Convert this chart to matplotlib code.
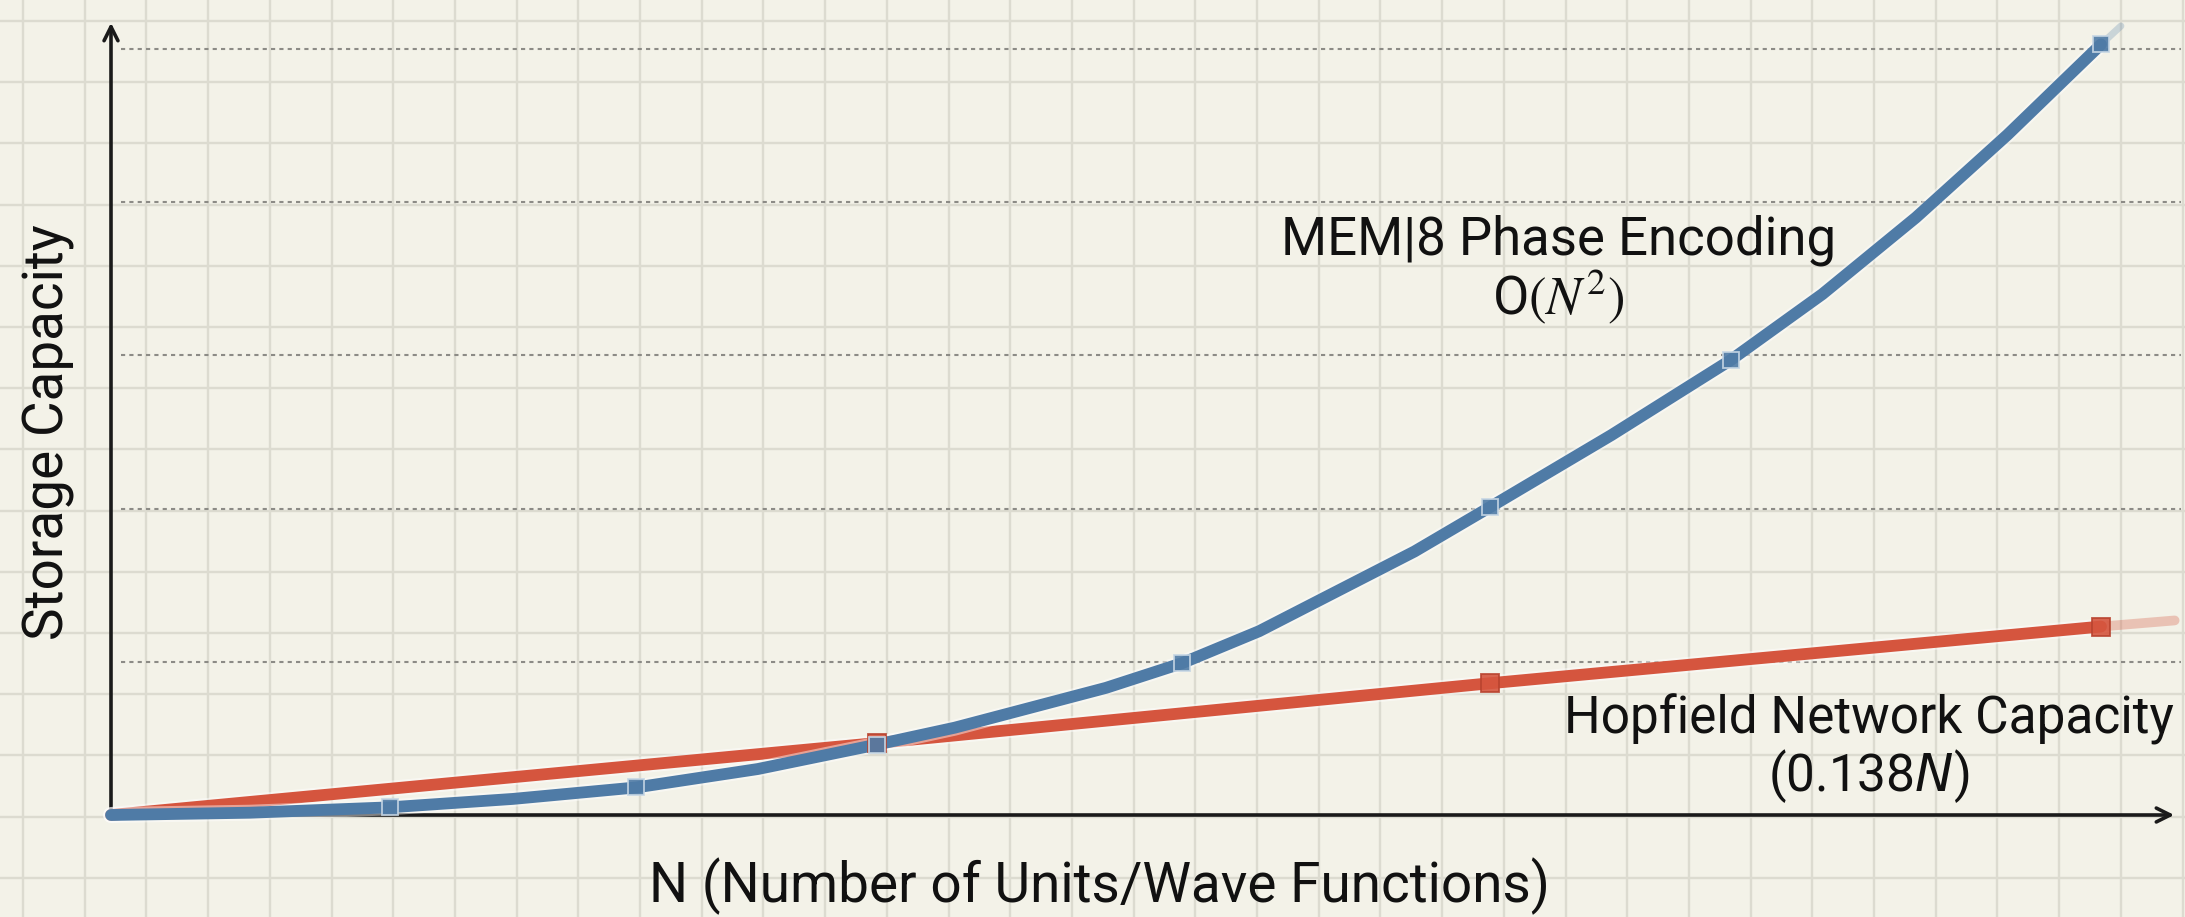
import numpy as np
import matplotlib
matplotlib.use("Agg")
from matplotlib import pyplot as plt
from matplotlib import patheffects as pe

plt.rcParams["font.family"] = ["Roboto", "DejaVu Sans"]
plt.rcParams["mathtext.fontset"] = "stix"

# values (N in arbitrary units, capacity in grid-line units)
nCurve = [0, 0.70, 1.40, 2.02, 2.64, 3.25, 3.85, 4.24, 4.62, 5.00, 5.38, 5.77, 6.16, 6.55, 6.93,
          7.54, 8.14, 8.60, 9.07, 9.53, 10.0]
memCapacity = [0, 0.015, 0.05, 0.105, 0.18, 0.30, 0.46, 0.57, 0.70, 0.83, 0.99, 1.20, 1.46, 1.72, 2.01,
               2.48, 2.97, 3.40, 3.90, 4.44, 5.03]
memMarkers = [2, 4, 6, 10, 14, 16, 20]
nHop = [0, 3.85, 6.93, 10.0]
hopCapacity = [0, 0.47, 0.86, 1.23]
hopMarkers = [1, 2, 3]
hopTailN = [10.0, 10.37]
hopTail = [1.23, 1.27]
memTailN = [10.0, 10.1]
memTail = [5.03, 5.15]
refLevels = [1, 2, 3, 4, 5]

blue = "#4f7ba6"
red = "#d5553e"
W, H = 2185, 917

fig = plt.figure(figsize=(W / 100, H / 100), dpi=100)
fig.patch.set_facecolor("#f3f2e8")

# graph-paper background in pixel coordinates
bg = fig.add_axes([0, 0, 1, 1])
bg.set_xlim(0, W)
bg.set_ylim(H, 0)
bg.axis("off")
for gx in np.arange(23, W, 61.7):
    bg.axvline(gx, color="#dcdbd0", lw=1.7, zorder=0)
for gy in np.arange(21, H, 61.2):
    bg.axhline(gy, color="#dcdbd0", lw=1.7, zorder=0)

x0, y0, x1, y1 = 111, 815, 2177, 20
ax = fig.add_axes([x0 / W, (H - y0) / H, (x1 - x0) / W, (y0 - y1) / H])
ax.set_facecolor("none")
ax.set_xlim(0, (x1 - x0) / 199.0)
ax.set_ylim(0, (y0 - y1) / 153.2)
for s in ax.spines.values():
    s.set_visible(False)
ax.set_xticks([])
ax.set_yticks([])

ax.hlines(refLevels, 0.05, 10.4, colors="#8c8b86", linestyles=(0, (2, 2)), lw=1.5, clip_on=False, zorder=1)

# axes with arrows
arrow = dict(arrowstyle="->,head_length=1.0,head_width=0.5", color="#1a1a1a", lw=2.6)
ax.annotate("", xy=(1, 0), xytext=(0, 0), xycoords="axes fraction", arrowprops=arrow, zorder=2)
ax.annotate("", xy=(0, 1), xytext=(0, 0), xycoords="axes fraction", arrowprops=arrow, zorder=2)

halo = [pe.Stroke(linewidth=11.5, foreground="white", alpha=0.45), pe.Normal()]
ax.plot(hopTailN, hopTail, color=red, lw=7, alpha=0.3, solid_capstyle="round", clip_on=False, zorder=3)
ax.plot(memTailN, memTail, color=blue, lw=5, alpha=0.25, solid_capstyle="round", clip_on=False, zorder=3)
ax.plot(nHop, hopCapacity, color=red, lw=8.5, solid_capstyle="round", path_effects=halo, clip_on=False, zorder=4)
ax.plot(nCurve, memCapacity, color=blue, lw=8.5, solid_capstyle="round", path_effects=halo, clip_on=False, zorder=5)
ax.plot([nHop[i] for i in hopMarkers], [hopCapacity[i] for i in hopMarkers], "s", ms=13,
        mfc=red, mec="#b8432f", mew=1.3, alpha=0.9, clip_on=False, zorder=6)
ax.plot([nCurve[i] for i in memMarkers], [memCapacity[i] for i in memMarkers], "s", ms=12,
        mfc=blue, mec="#c6d6e4", mew=1.3, alpha=0.9, clip_on=False, zorder=6)

bg.text(1559, 240, "MEM|8 Phase Encoding", fontsize=38, ha="center", va="center", color="#111111")
bg.text(1558, 297, r"O$(N^2)$", fontsize=38, ha="center", va="center", color="#111111")
bg.text(1869, 719, "Hopfield Network Capacity", fontsize=37, ha="center", va="center", color="#111111")
bg.text(1869, 776, r"(0.138$N$)", fontsize=37, ha="center", va="center", color="#111111",
        math_fontfamily="dejavusans")
bg.text(1099, 886, "N (Number of Units/Wave Functions)", fontsize=39.5, ha="center", va="center", color="#111111")
bg.text(49, 432, "Storage Capacity", fontsize=39.5, ha="center", va="center", rotation=90, color="#111111")

fig.savefig("out.png", dpi=100, facecolor=fig.get_facecolor())
